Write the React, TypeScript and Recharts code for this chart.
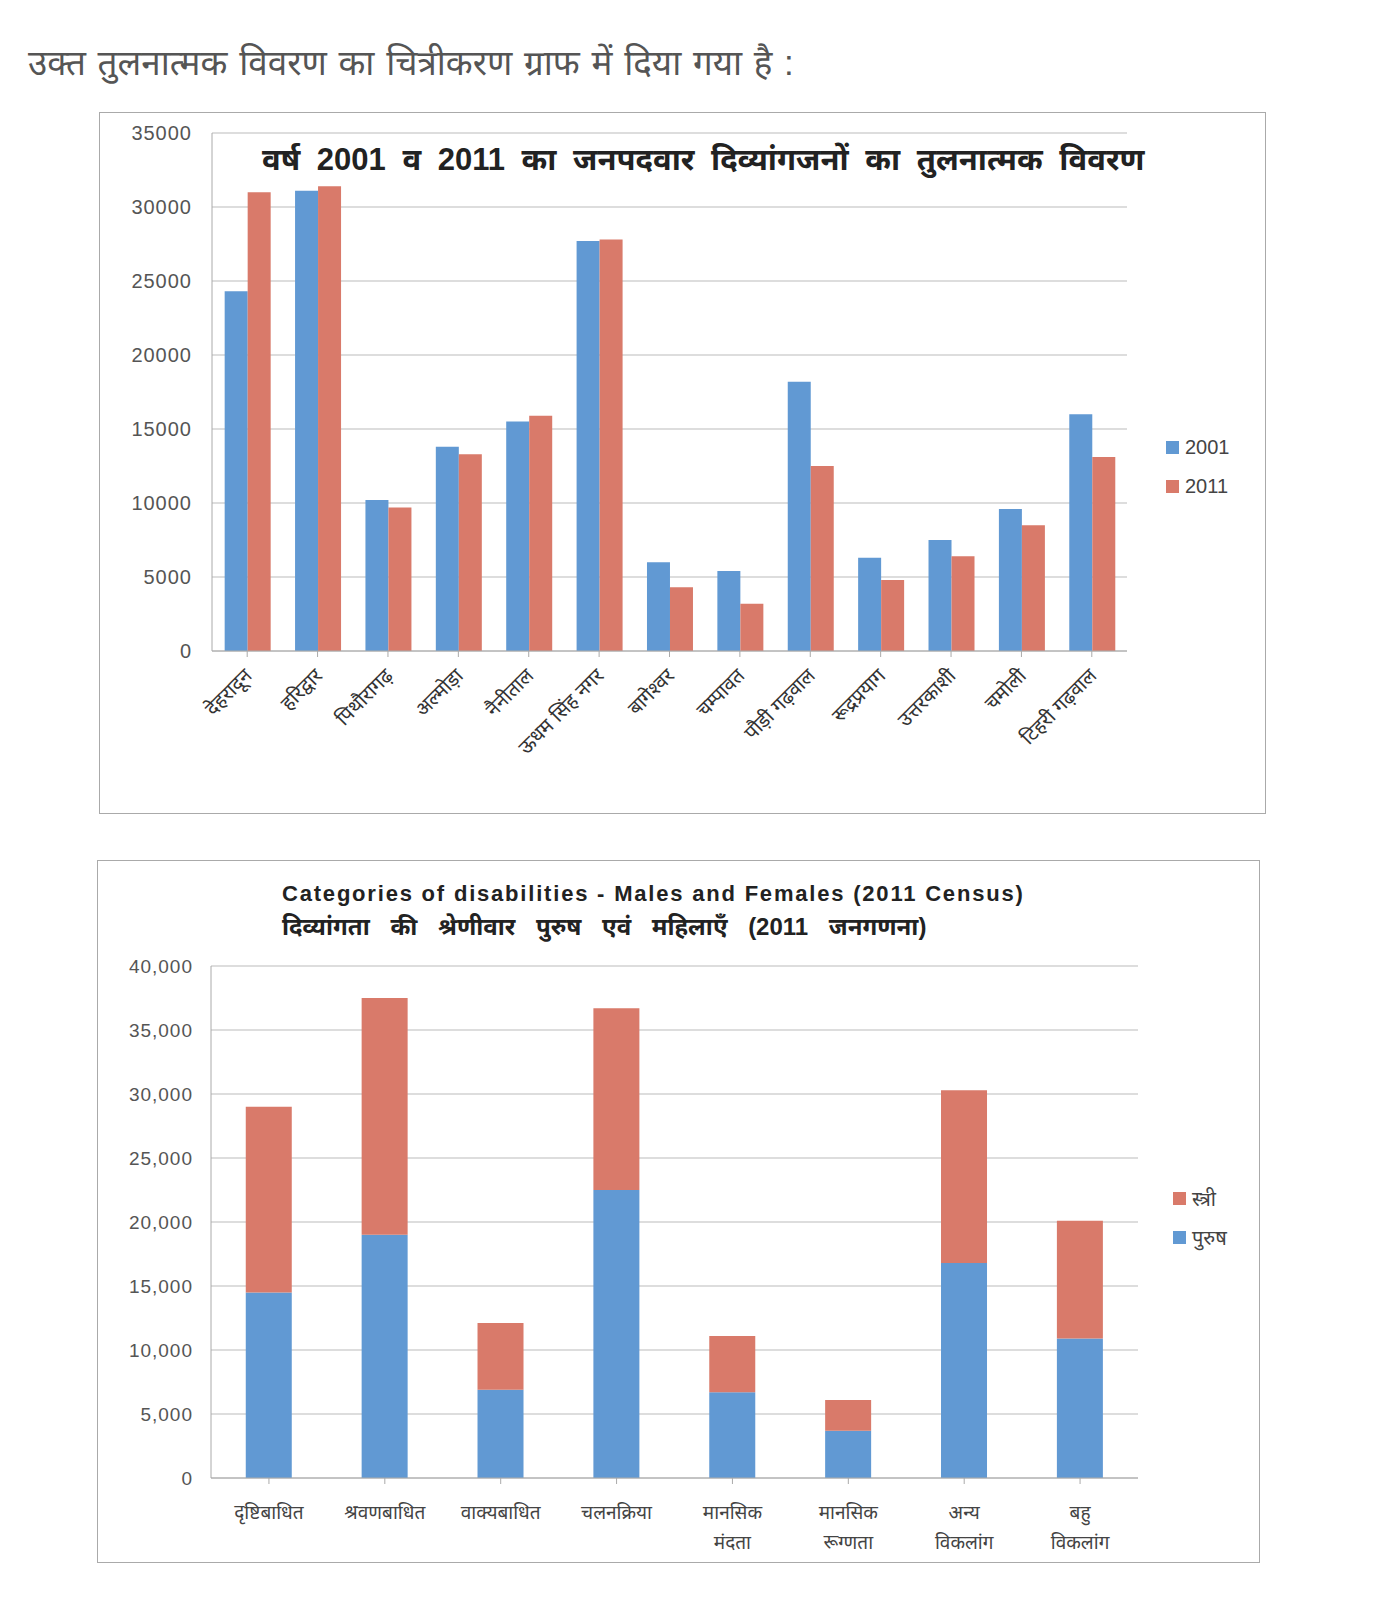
import React from "react";
import {
  BarChart,
  Bar,
  XAxis,
  YAxis,
  CartesianGrid,
} from "recharts";

// District-wise disabled persons, 2001 vs 2011
const districts = [
  "देहरादून",
  "हरिद्वार",
  "पिथौरागढ़",
  "अल्मोड़ा",
  "नैनीताल",
  "ऊधम सिंह नगर",
  "बागेश्वर",
  "चम्पावत",
  "पौड़ी गढ़वाल",
  "रूद्रप्रयाग",
  "उत्तरकाशी",
  "चमोली",
  "टिहरी गढ़वाल",
];
const values2001 = [24300, 31100, 10200, 13800, 15500, 27700, 6000, 5400, 18200, 6300, 7500, 9600, 16000];
const values2011 = [31000, 31400, 9700, 13300, 15900, 27800, 4300, 3200, 12500, 4800, 6400, 8500, 13100];
const topTicks = [0, 5000, 10000, 15000, 20000, 25000, 30000, 35000];

// Categories of disability, males and females (2011)
const categories = [
  ["दृष्टिबाधित"],
  ["श्रवणबाधित"],
  ["वाक्यबाधित"],
  ["चलनक्रिया"],
  ["मानसिक", "मंदता"],
  ["मानसिक", "रूग्णता"],
  ["अन्य", "विकलांग"],
  ["बहु", "विकलांग"],
];
const males = [14500, 19000, 6900, 22500, 6700, 3700, 16800, 10900];
const females = [14500, 18500, 5200, 14200, 4400, 2400, 13500, 9200];
const bottomTicks = [0, 5000, 10000, 15000, 20000, 25000, 30000, 35000, 40000];

const BLUE = "#6199d3";
const RED = "#d97a6a";
const FONT = "'Liberation Sans', 'Noto Sans', sans-serif";

const topData = districts.map((d, i) => ({ name: d, y2001: values2001[i], y2011: values2011[i] }));
const bottomData = categories.map((c, i) => ({ name: c.join("|"), male: males[i], female: females[i] }));

function RotatedTick(props: any) {
  const { x, y, payload } = props;
  return (
    <g transform={`translate(${x + 6},${y + 18})`}>
      <text
        transform="rotate(-45)"
        textAnchor="end"
        fontSize={20}
        fill="#333"
        fontFamily={FONT}
      >
        {payload.value}
      </text>
    </g>
  );
}

function MultiLineTick(props: any) {
  const { x, y, payload } = props;
  const lines = String(payload.value).split("|");
  return (
    <g transform={`translate(${x},${y})`}>
      {lines.map((l, i) => (
        <text
          key={i}
          x={0}
          y={33 + i * 30}
          textAnchor="middle"
          fontSize={19}
          fill="#444"
          fontFamily={FONT}
        >
          {l}
        </text>
      ))}
    </g>
  );
}

function LegendBox({ items, left, top }: { items: { label: string; color: string }[]; left: number; top: number }) {
  return (
    <div style={{ position: "absolute", left, top, fontFamily: FONT, fontSize: 20, color: "#444" }}>
      {items.map((it) => (
        <div key={it.label} style={{ display: "flex", alignItems: "center", height: 39 }}>
          <span style={{ width: 13, height: 13, background: it.color, marginRight: 6, display: "inline-block" }} />
          {it.label}
        </div>
      ))}
    </div>
  );
}

export default function App() {
  return (
    <div style={{ position: "absolute", left: 0, top: 0, width: 1383, height: 1600, background: "#fff", fontFamily: FONT }}>
      <div style={{ position: "absolute", left: 28, top: 38, fontSize: 35, color: "#555", whiteSpace: "nowrap", wordSpacing: 2 }}>
        उक्त तुलनात्मक विवरण का चित्रीकरण ग्राफ में दिया गया है :
      </div>

      {/* top chart */}
      <div style={{ position: "absolute", left: 99, top: 112, width: 1167, height: 702, border: "1px solid #aaa", boxSizing: "border-box" }}>
        <BarChart
          width={1165}
          height={700}
          data={topData}
          margin={{ top: 20, right: 138, bottom: 20, left: 52 }}
          barCategoryGap="18%"
          barGap={0}
        >
          <CartesianGrid vertical={false} stroke="#bbb" />
          <XAxis
            dataKey="name"
            interval={0}
            height={142}
            tick={<RotatedTick />}
            axisLine={{ stroke: "#aaa" }}
            tickLine={{ stroke: "#aaa" }}
          />
          <YAxis
            domain={[0, 35000]}
            ticks={topTicks}
            width={60}
            tickMargin={14}
            tick={{ fontSize: 20, fill: "#555", fontFamily: FONT, letterSpacing: 1 }}
            axisLine={{ stroke: "#aaa" }}
            tickLine={false}
          />
          <Bar dataKey="y2001" name="2001" fill={BLUE} isAnimationActive={false} />
          <Bar dataKey="y2011" name="2011" fill={RED} isAnimationActive={false} />
        </BarChart>
        <LegendBox left={1066} top={315} items={[{ label: "2001", color: BLUE }, { label: "2011", color: RED }]} />
        <div style={{ position: "absolute", left: 162, top: 24, fontSize: 31, fontWeight: "bold", color: "#222", whiteSpace: "nowrap", wordSpacing: 8 }}>
          वर्ष 2001 व 2011 का जनपदवार दिव्यांगजनों का तुलनात्मक विवरण
        </div>
      </div>

      {/* bottom chart */}
      <div style={{ position: "absolute", left: 97, top: 860, width: 1163, height: 703, border: "1px solid #aaa", boxSizing: "border-box" }}>
        <BarChart
          width={1161}
          height={701}
          data={bottomData}
          margin={{ top: 105, right: 121, bottom: 12, left: 53 }}
          barCategoryGap="30%"
        >
          <CartesianGrid vertical={false} stroke="#bbb" />
          <XAxis
            dataKey="name"
            interval={0}
            height={72}
            tick={<MultiLineTick />}
            axisLine={{ stroke: "#aaa" }}
            tickLine={{ stroke: "#aaa" }}
          />
          <YAxis
            domain={[0, 40000]}
            ticks={bottomTicks}
            width={60}
            tickMargin={12}
            tickFormatter={(v: number) => v.toLocaleString("en-US")}
            tick={{ fontSize: 19, fill: "#555", fontFamily: FONT, letterSpacing: 1 }}
            axisLine={{ stroke: "#aaa" }}
            tickLine={false}
          />
          <Bar dataKey="male" name="पुरुष" stackId="a" fill={BLUE} isAnimationActive={false} />
          <Bar dataKey="female" name="स्त्री" stackId="a" fill={RED} isAnimationActive={false} />
        </BarChart>
        <LegendBox left={1075} top={318} items={[{ label: "स्त्री", color: RED }, { label: "पुरुष", color: BLUE }]} />
        <div style={{ position: "absolute", left: 184, top: 16, fontWeight: "bold", color: "#222", lineHeight: "33px", whiteSpace: "nowrap" }}>
          <div style={{ fontSize: 22, letterSpacing: 1.8 }}>Categories of disabilities - Males and Females (2011 Census)</div>
          <div style={{ fontSize: 24, wordSpacing: 14 }}>दिव्यांगता की श्रेणीवार पुरुष एवं महिलाएँ (2011 जनगणना)</div>
        </div>
      </div>
    </div>
  );
}
